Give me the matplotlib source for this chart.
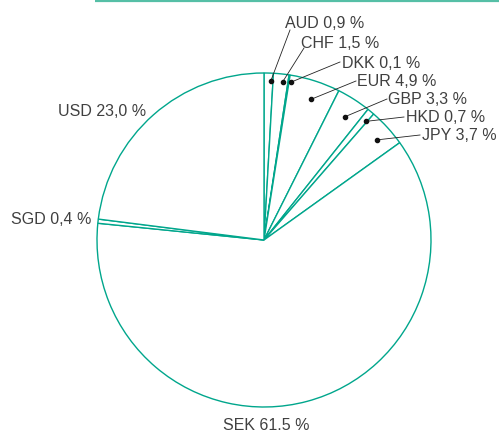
import numpy as np
import matplotlib
matplotlib.use("Agg")
from matplotlib import pyplot as plt

# currency split, clockwise from 12 o'clock
currencies = ["AUD", "CHF", "DKK", "EUR", "GBP", "HKD", "JPY", "SEK", "SGD", "USD"]
shares = [0.9, 1.5, 0.1, 4.9, 3.3, 0.7, 3.7, 61.5, 0.4, 23.0]
labels = ["AUD 0,9 %", "CHF 1,5 %", "DKK 0,1 %", "EUR 4,9 %", "GBP 3,3 %",
          "HKD 0,7 %", "JPY 3,7 %", "SEK 61.5 %", "SGD 0,4 %", "USD 23,0 %"]

W, H = 499, 432
teal = "#00a68c"
txt_col = "#404040"

plt.rcParams['font.family'] = ['Liberation Sans', 'DejaVu Sans']

fig = plt.figure(figsize=(W / 100, H / 100), dpi=100)
ax = fig.add_axes([0, 0, 1, 1])

cx, cy, rad = 264, H - 240, 167
wedges, _ = ax.pie(shares, startangle=90, counterclock=False, center=(cx, cy), radius=rad,
                   wedgeprops=dict(facecolor="white", edgecolor=teal, linewidth=1.0))
ax.set_xlim(0, W)
ax.set_ylim(0, H)
ax.set_aspect("equal")
ax.axis("off")

# labels with leader lines: (text left x, text centre y, line end x, line end y, dot radius frac, angle shift)
called_out = {
    "AUD": (285, 23, 290, 30, 0.952),
    "CHF": (301, 43, 304, 48, 0.954),
    "DKK": (342, 63, 340, 62, 0.958),
    "EUR": (357, 81, 356, 81, 0.89),
    "GBP": (388, 99, 387, 99, 0.885),
    "HKD": (406, 117, 404, 117, 0.935),
    "JPY": (422, 135, 420, 135, 0.905),
}
fs = 11.5
for w, cur, lab in zip(wedges, currencies, labels):
    if cur in called_out:
        tx, ty, lx, ly, fr = called_out[cur]
        ang = np.deg2rad((w.theta1 + w.theta2) / 2 - 0.8)
        px = cx + rad * fr * np.cos(ang)
        py = cy + rad * fr * np.sin(ang)
        ax.plot([px, lx], [py, H - ly], color="#222222", lw=0.6, zorder=5)
        ax.plot(px, py, "o", color="#111111", ms=3.0, zorder=6)
        ax.text(tx, H - ty, lab, ha="left", va="center", fontsize=fs, color=txt_col)

ax.text(58, H - 111, labels[currencies.index("USD")], ha="left", va="center", fontsize=fs, color=txt_col)
ax.text(11, H - 220, labels[currencies.index("SGD")], ha="left", va="center", fontsize=fs, color=txt_col)
ax.text(223, H - 426, labels[currencies.index("SEK")], ha="left", va="center", fontsize=fs, color=txt_col)

# thin rule across the top
ax.plot([95, W], [H - 1.2, H - 1.2], color="#55bfa6", lw=1.6, solid_capstyle="butt")

fig.savefig("out.png", dpi=100)
